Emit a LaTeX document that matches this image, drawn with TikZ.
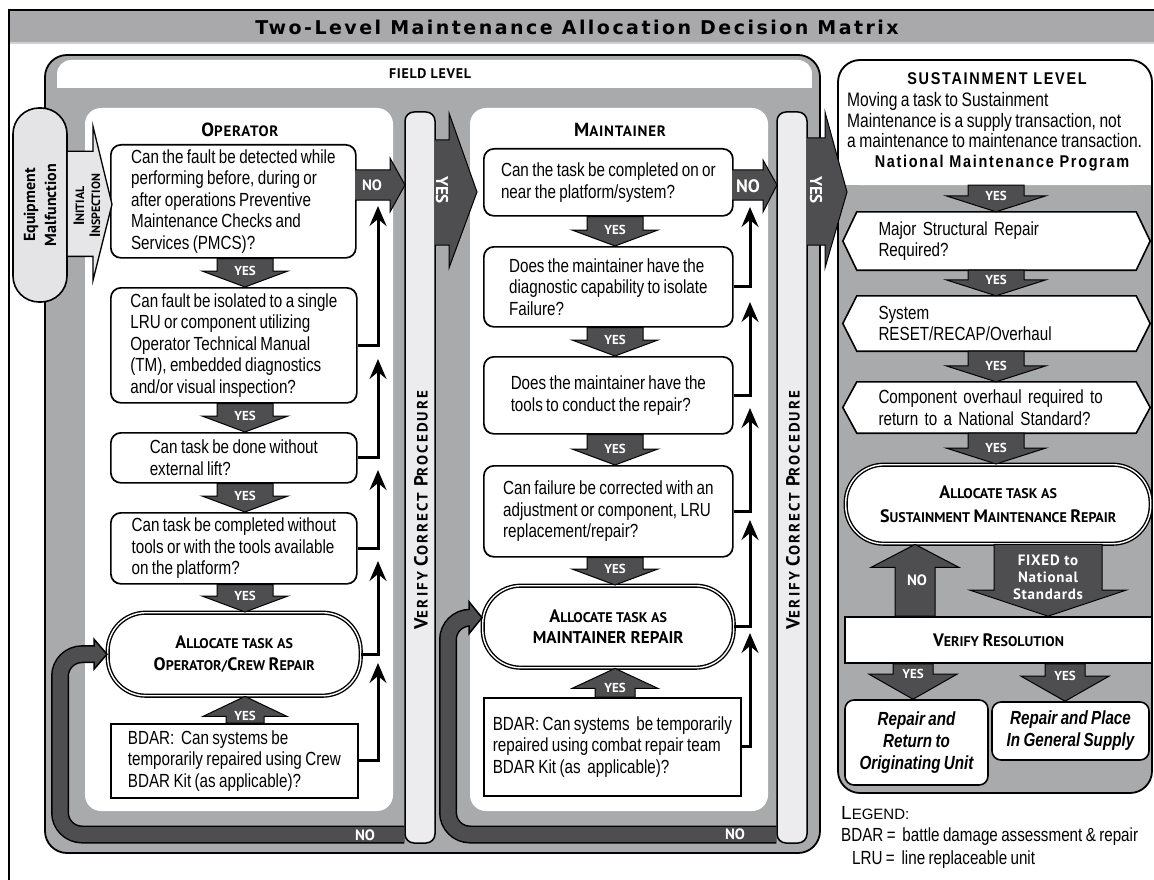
\documentclass[tikz,border=0pt]{standalone}
\usepackage{fontspec}
\setmainfont{Liberation Sans}
\newfontfamily\nf[FakeStretch=0.8,WordSpace=0.8]{Liberation Sans}
\newfontfamily\hf{PT Sans}
\newfontfamily\hfs[LetterSpace=5]{PT Sans}
\newfontfamily\vf[LetterSpace=14]{PT Sans}
\newfontfamily\titlef[LetterSpace=13]{DejaVu Sans}
\newfontfamily\susf[FakeStretch=0.85,LetterSpace=10]{Liberation Sans}
\usetikzlibrary{calc,arrows.meta}
\pgfdeclarelayer{back}
\pgfdeclarelayer{mid}
\pgfsetlayers{back,mid,main}
\definecolor{midgray}{HTML}{A9AAAC}
\definecolor{colgray}{HTML}{ECECEE}
\definecolor{darkarrow}{HTML}{4E4E50}
\definecolor{lightarrow}{HTML}{E6E6E8}
\definecolor{titlegray}{HTML}{A9A9AB}
\definecolor{emgray}{HTML}{E4E4E6}
\newcommand\bs[4]{{\fontsize{#1}{#1}\selectfont #3}{\fontsize{#2}{#2}\selectfont #4}}
\newcommand\blockdown[7]{%
 \draw[blockarrow] let \p1=(#1.south), \p2=(#2.north), \p3=(#3) in
 (\x3-#4pt,\y1) -- (\x3+#4pt,\y1) -- (\x3+#4pt,\y2+#6pt) -- (\x3+#5pt,\y2+#6pt) -- (\x3,\y2) -- (\x3-#5pt,\y2+#6pt) -- (\x3-#4pt,\y2+#6pt) -- cycle
 (\x3,\y2+#6pt) node[yeslab] {#7};}
\newcommand\blockup[7]{%
 \draw[blockarrow] let \p1=(#1.north), \p2=(#2.south), \p3=(#3) in
 (\x3-#4pt,\y1) -- (\x3+#4pt,\y1) -- (\x3+#4pt,\y2-#6pt) -- (\x3+#5pt,\y2-#6pt) -- (\x3,\y2) -- (\x3-#5pt,\y2-#6pt) -- (\x3-#4pt,\y2-#6pt) -- cycle
 (\x3,\y2-#6pt) node[yeslab] {#7};}
\begin{document}
\begin{tikzpicture}[x=1pt,y=-1pt,
 blockarrow/.style={fill=darkarrow, draw=black, line width=1, line join=miter},
 yeslab/.style={text=white, font={\hf\bfseries\fontsize{13}{13}\selectfont}, inner sep=0},
 nolab/.style={text=white, font={\hf\bfseries\fontsize{15}{15}\selectfont}, inner sep=0},
 qbox/.style={draw, line width=1.7, fill=white, rounded corners=10, anchor=north west, align=left, inner sep=0, font={\nf\fontsize{19}{21.5}\selectfont}},
 sqbox/.style={qbox, rounded corners=0},
 ovalbox/.style={draw, double, double distance=1.4, line width=1.4, fill=white, rounded corners=38, anchor=north west, align=center, inner sep=0, font={\hf\bfseries\fontsize{14}{22}\selectfont}},
 conn/.style={line width=3, -{Stealth[length=20pt,width=17pt,inset=7pt]}},
 colbox/.style={draw, fill=colgray, line width=1.5, rounded corners=9, minimum width=30, minimum height=731, inner sep=0},
 coltext/.style={rotate=90, font={\vf\bfseries\fontsize{15}{15}\selectfont}},
 bigyes/.style={rotate=-90, text=white, font={\hf\bfseries\fontsize{17}{17}\selectfont}, inner sep=0}
]
\useasboundingbox (0,0) rectangle (1154,880);

% ---------------- background frames ----------------
\begin{pgfonlayer}{back}
 \fill[titlegray] (9,10) rectangle (1170,42);
 \fill[black!18] (9,42) rectangle (1170,44.5);
 \draw[line width=1.5] (9,10) rectangle (1175,900);
 \draw[fill=midgray, line width=1.8, rounded corners=22] (45,55) rectangle (820,853);
 \fill[white, rounded corners=14] (57,60) rectangle (812,88);
 \fill[white] (57,76) rectangle (812,88);
 \fill[white, rounded corners=16] (85,108) rectangle (393,811);
 \fill[white, rounded corners=16] (470,108) rectangle (768,811);
 \fill[midgray, rounded corners=22] (838,60) rectangle (1152,793);
 \fill[white, rounded corners=21] (839,61) rectangle (1151,185);
 \fill[white] (839,120) rectangle (1151,185);
 \draw[line width=1.8, rounded corners=22] (838,60) rectangle (1152,793);
 \node[colbox] (col1) at (420,477.5) {};
 \node[colbox] (col2) at (792,477.5) {};
\end{pgfonlayer}

\node[coltext] at (421,510) {\bs{19}{15}{V}{ERIFY} \bs{19}{15}{C}{ORRECT} \bs{19}{15}{P}{ROCEDURE}};
\node[coltext] at (793,510) {\bs{19}{15}{V}{ERIFY} \bs{19}{15}{C}{ORRECT} \bs{19}{15}{P}{ROCEDURE}};

% ---------------- titles ----------------
\node[font={\titlef\bfseries\fontsize{19}{19}\selectfont}] (title) at (577,27) {Two-Level Maintenance Allocation Decision Matrix};
\node[font={\hfs\bfseries\fontsize{14}{14}\selectfont}] (field) at (430,74) {FIELD LEVEL};
\node[font={\hfs\bfseries}] (ophead) at (240,130) {\bs{19}{15}{O}{PERATOR}};
\node[font={\hfs\bfseries}] (mhead) at (620,130) {\bs{19}{15}{M}{AINTAINER}};

% ---------------- operator column ----------------
\node[qbox, minimum width=245, minimum height=113] (op1) at (110,144) {Can the fault be detected while\\performing before, during or\\after operations Preventive\\Maintenance Checks and\\Services (PMCS)?};
\node[qbox, minimum width=246, minimum height=115] (op2) at (110,287) {Can fault be isolated to a single\\LRU or component utilizing\\Operator Technical Manual\\(TM), embedded diagnostics\\and/or visual inspection?};
\node[qbox, minimum width=246, minimum height=50] (op3) at (110,432) {Can task be done without\\external lift?};
\node[qbox, minimum width=246, minimum height=71] (op4) at (110,512) {Can task be completed without\\tools or with the tools available\\on the platform?};
\node[ovalbox, minimum width=253, minimum height=83] (opo) at (107,612) {\bs{18}{14}{A}{LLOCATE TASK AS}\\\bs{18}{14}{O}{PERATOR/}\bs{18}{14}{C}{REW }\bs{18}{14}{R}{EPAIR}};
\node[sqbox, minimum width=247, minimum height=74] (opb) at (110,723) {BDAR:\ \ Can systems be\\temporarily repaired using Crew\\BDAR Kit (as applicable)?};

% Equipment malfunction + initial inspection
\node[draw, line width=1.6, fill=emgray, rounded corners=26, minimum width=54, minimum height=194, inner sep=0] (em) at (40,205) {};
\node[rotate=90, align=center, font={\hf\bfseries\fontsize{16}{21}\selectfont}] at (em.center) {Equipment\\Malfunction};
\draw[fill=lightarrow, line width=1.3, line join=miter] let \p1=(em.east), \p2=(op1.west) in
 (\x1,\y2+50pt) -- (\x2-17pt,\y2+50pt) -- (\x2-17pt,\y2+75pt) -- (\x2+2pt,\y2-3pt) -- (\x2-17pt,\y2-79pt) -- (\x2-17pt,\y2-55pt) -- (\x1,\y2-55pt);
\node[rotate=90, align=center, font={\hf\bfseries\fontsize{12}{16}\selectfont}] at (87,206) {\bs{15}{12}{I}{NITIAL}\\\bs{15}{12}{I}{NSPECTION}};

% ---------------- maintainer column ----------------
\node[qbox, minimum width=249, minimum height=67] (m1) at (483,148) {Can the task be completed on or\\near the platform/system?};
\node[qbox, minimum width=249, minimum height=80] (m2) at (483,246) {Does the maintainer have the\\diagnostic capability to isolate\\Failure?};
\node[qbox, minimum width=249, minimum height=77] (m3) at (483,356) {Does the maintainer have the\\tools to conduct the repair?};
\node[qbox, minimum width=249, minimum height=91] (m4) at (483,465) {Can failure be corrected with an\\adjustment or component, LRU\\replacement/repair?};
\node[ovalbox, minimum width=251, minimum height=82, font={\hf\bfseries\fontsize{17}{21}\selectfont}] (mo) at (482,585) {\bs{18}{14}{A}{LLOCATE TASK AS}\\MAINTAINER REPAIR};
\node[sqbox, minimum width=257, minimum height=98] (mb) at (483,697) {BDAR: Can systems\ \ be temporarily\\repaired using combat repair team\\BDAR Kit (as\ \ applicable)?};

% ---------------- sustainment column ----------------
\node[font={\susf\bfseries\fontsize{17}{17}\selectfont}] (sushead) at (997,79) {SUSTAINMENT LEVEL};
\node[anchor=west, align=left, inner sep=0, font={\nf\fontsize{19.5}{20.5}\selectfont}] (susdesc) at (847,120.5) {Moving a task to Sustainment\\Maintenance is a supply transaction, not\\a maintenance to maintenance transaction.};
\node[font={\susf\bfseries\fontsize{17}{17}\selectfont}, minimum height=44, inner sep=0, anchor=south] (nmp) at (1002,185) {National Maintenance Program};
\node[minimum width=307, minimum height=58, inner sep=0, text width=236, align=left, font={\nf\fontsize{19}{21.5}\selectfont}] (h1) at (996.5,241) {Major Structural Repair\\Required?};
\node[minimum width=307, minimum height=55, inner sep=0, text width=236, align=left, font={\nf\fontsize{19}{21.5}\selectfont}] (h2) at (996.5,323.5) {System\\RESET/RECAP/Overhaul};
\node[minimum width=307, minimum height=51, inner sep=0, text width=236, align=left, font={\nf\fontsize{19}{21.5}\selectfont}] (h3) at (996.5,407.5) {Component overhaul required to\\return to a National Standard?};
\begin{pgfonlayer}{mid}
 \foreach \h in {h1,h2,h3}{
  \draw[line width=1.6, fill=white] ($(\h.north west)+(14,0)$) -- ($(\h.north east)+(-14,0)$) -- (\h.east) -- ($(\h.south east)+(-14,0)$) -- ($(\h.south west)+(14,0)$) -- (\h.west) -- cycle;
 }
\end{pgfonlayer}
\node[ovalbox, minimum width=305, minimum height=79, font={\hf\bfseries\fontsize{14}{24}\selectfont}] (so) at (845,464) {\bs{18}{14}{A}{LLOCATE TASK AS}\\\bs{18}{14}{S}{USTAINMENT }\bs{18}{14}{M}{AINTENANCE }\bs{18}{14}{R}{EPAIR}};
\node[draw, line width=1.6, fill=white, minimum width=307, minimum height=46, inner sep=0, font={\hf\bfseries}] (vr) at (998.5,640) {\bs{18}{14}{V}{ERIFY }\bs{18}{14}{R}{ESOLUTION}};
\node[draw, line width=1.6, fill=white, rounded corners=9, minimum width=143, minimum height=85, inner sep=0, align=center, font={\nf\bfseries\itshape\fontsize{19}{22}\selectfont}] (rl) at (916.5,742.5) {Repair and\\Return to\\Originating Unit};
\node[draw, line width=1.6, fill=white, rounded corners=9, minimum width=157, minimum height=58, inner sep=0, align=center, font={\nf\bfseries\itshape\fontsize{19}{22}\selectfont}] (rr) at (1070.5,731) {Repair and Place\\In General Supply};

% legend
\node[anchor=west, inner sep=0, font={\fontsize{14}{14}\selectfont}] (lg) at (841,813) {\bs{19}{15}{L}{EGEND:}};
\node[anchor=west, inner sep=0, font={\nf\fontsize{19}{19}\selectfont}] (lg1) at (841,837) {BDAR =\ \ battle damage assessment \& repair};
\node[anchor=west, inner sep=0, font={\nf\fontsize{19}{19}\selectfont}] (lg2) at (852,860) {LRU =\ \ line replaceable unit};

% ---------------- block arrows ----------------
\coordinate (oax) at (245,0);
\coordinate (max) at (615,0);
\coordinate (sax) at (996,0);
\coordinate (noax) at (915,0);
\coordinate (fxax) at (1048,0);
\coordinate (ylax) at (913,0);
\coordinate (yrax) at (1065,0);

\blockdown{op1}{op2}{oax}{28}{43}{16}{YES}
\blockdown{op2}{op3}{oax}{28}{43}{16}{YES}
\blockdown{op3}{op4}{oax}{28}{43}{16}{YES}
\blockdown{op4}{opo}{oax}{28}{43}{16}{YES}
\blockup{opb}{opo}{oax}{19}{42}{20}{YES}

\blockdown{m1}{m2}{max}{28}{43}{16}{YES}
\blockdown{m2}{m3}{max}{28}{43}{16}{YES}
\blockdown{m3}{m4}{max}{28}{43}{16}{YES}
\blockdown{m4}{mo}{max}{28}{43}{16}{YES}
\blockup{mb}{mo}{max}{20}{43}{20}{YES}

\blockdown{nmp}{h1}{sax}{28}{50}{16}{YES}
\blockdown{h1}{h2}{sax}{28}{50}{16}{YES}
\blockdown{h2}{h3}{sax}{28}{50}{16}{YES}
\blockdown{h3}{so}{sax}{28}{50}{16}{YES}
\blockup{vr}{so}{noax}{20}{44}{23}{}
\node[nolab] at (917,580) {NO};
\blockdown{so}{vr}{fxax}{54}{78}{26}{}
\node[align=center, text=white, font={\hfs\bfseries\fontsize{15}{17}\selectfont}, inner sep=0] at (1048,577) {FIXED to\\National\\Standards};
\blockdown{vr}{rl}{ylax}{20}{44}{25}{YES}
\blockdown{vr}{rr}{yrax}{20}{44}{25}{YES}

% big YES arrows into next level
\draw[blockarrow] (435,140) -- (449,140) -- (449,113) -- (477,192) -- (449,268) -- (449,245) -- (435,245);
\node[bigyes] at (442,190) {YES};
\draw[blockarrow] (807,138) -- (825,138) -- (825,112) -- (847,192) -- (825,268) -- (825,245) -- (807,245);
\node[bigyes] at (816,190) {YES};

% NO arrows to verify columns
\draw[blockarrow] (355,170) -- (390,170) -- (390,158) -- (405,185) -- (390,212) -- (390,200) -- (355,200);
\node[nolab] at (372,185) {NO};
\draw[blockarrow] (732,170) -- (763,170) -- (763,160) -- (777,185) -- (763,212) -- (763,200) -- (732,200);
\node[nolab, font={\hf\bfseries\fontsize{18}{18}\selectfont}] at (748,186) {NO};

% ---------------- NO connectors ----------------
\coordinate (ot1) at (378,206);
\coordinate (ot2) at (378,359);
\coordinate (ot3) at (378,470);
\coordinate (ot4) at (378,561);
\coordinate (ot5) at (378,663);
\draw[conn] (op2.east) -| (ot1);
\draw[conn] (op3.east) -| (ot2);
\draw[conn] (op4.east) -| (ot3);
\draw[conn] (opo.east) -| (ot4);
\draw[conn] (opb.east) -| (ot5);

\coordinate (mt1) at (750,207);
\coordinate (mt2) at (750,302);
\coordinate (mt3) at (750,408);
\coordinate (mt4) at (750,520);
\coordinate (mt5) at (750,633);
\draw[conn] (m2.east) -| (mt1);
\draw[conn] (m3.east) -| (mt2);
\draw[conn] (m4.east) -| (mt3);
\draw[conn] (mo.east) -| (mt4);
\draw[conn] (mb.east) -| (mt5);

% ---------------- loop-back NO arrows ----------------
\draw[line width=18, rounded corners=22] (col1.west |- 0,834.5) -- (60,834.5) -- (60,0 |- opo.west) -- ($(opo.west)+(-12,0)$);
\draw[fill=darkarrow, line width=1.5, line join=miter] let \p1=(opo.west) in (\x1-13pt,\y1+15pt) -- (\x1,\y1) -- (\x1-13pt,\y1-15pt) -- cycle;
\draw[line width=15, darkarrow, rounded corners=22] (col1.west |- 0,834.5) -- (60,834.5) -- (60,0 |- opo.west) -- ($(opo.west)+(-11.5,0)$);
\node[nolab] at (365,835) {NO};

\coordinate (mtip) at ($(mo.west)+(0,-9)$);
\draw[line width=18, rounded corners=22] (col2.west |- 0,834.5) -- (448,834.5) -- (448,0 |- mtip) -- ($(mtip)+(-12,0)$);
\draw[fill=darkarrow, line width=1.5, line join=miter] let \p1=(mtip) in (\x1-13pt,\y1+16pt) -- (\x1,\y1) -- (\x1-13pt,\y1-16pt) -- cycle;
\draw[line width=15, darkarrow, rounded corners=22] (col2.west |- 0,834.5) -- (448,834.5) -- (448,0 |- mtip) -- ($(mtip)+(-11.5,0)$);
\node[nolab] at (735,834) {NO};
\end{tikzpicture}
\end{document}
